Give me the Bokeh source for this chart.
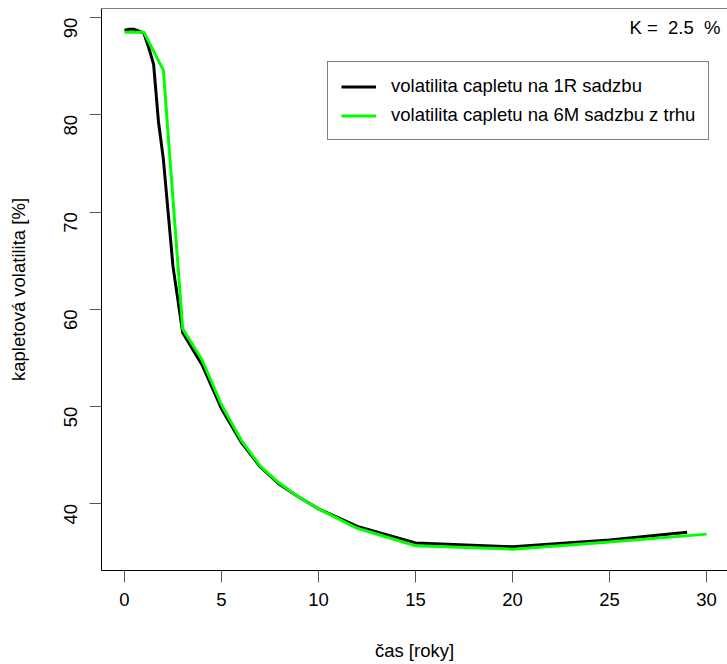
import math
from bokeh.plotting import figure
from bokeh.models import Range1d, Legend, LegendItem, Label, Span, FixedTicker
from bokeh.embed import file_html
from bokeh.resources import INLINE

# Data: caplet volatility [%] vs time [years]
t_1r = [0, 0.25, 0.5, 0.75, 1, 1.25, 1.5, 1.75, 2, 2.5, 3, 4, 5, 6, 7, 8, 9, 10, 12, 15, 20, 25, 29]
vol_1r = [88.7, 88.8, 88.8, 88.6, 88.4, 86.9, 85.2, 79.3, 75.5, 64.4, 57.6, 54.3, 49.8, 46.4, 43.8, 42.0, 40.7, 39.5, 37.7, 36.0, 35.6, 36.3, 37.1]
t_6m = [0, 1, 2, 3, 4, 5, 6, 7, 8, 9, 10, 12, 15, 20, 25, 30]
vol_6m = [88.5, 88.5, 84.6, 58.0, 54.8, 50.2, 46.6, 43.9, 42.1, 40.7, 39.5, 37.5, 35.7, 35.35, 36.1, 36.9]

x_ticks = [0, 5, 10, 15, 20, 25, 30]
y_ticks = [40, 50, 60, 70, 80, 90]
legend_labels = ["volatilita capletu na 1R sadzbu", "volatilita capletu na 6M sadzbu z trhu"]
strike_text = "K =\u00a0 2.5\u00a0 %"

FONT = "Liberation Sans"
FS = "18.5px"

p = figure(width=727, height=664, output_backend="svg", toolbar_location=None,
           x_range=Range1d(-1.186, 31.08), y_range=Range1d(33.16, 90.94),
           min_border_left=101, min_border_right=0, min_border_top=8, min_border_bottom=94)
p.grid.visible = False
p.outline_line_color = None
p.background_fill_color = "white"
p.border_fill_color = "white"

for ax in (p.xaxis[0], p.yaxis[0]):
    ax.axis_line_color = "black"
    ax.axis_line_width = 1
    ax.major_tick_in = 0
    ax.major_tick_out = 12
    ax.major_tick_line_color = "#555555"
    ax.minor_tick_line_color = None
    ax.major_label_text_font = FONT
    ax.major_label_text_font_size = FS
    ax.major_label_text_color = "black"
    ax.axis_label_text_font = FONT
    ax.axis_label_text_font_size = FS
    ax.axis_label_text_font_style = "normal"
    ax.axis_label_text_color = "black"

p.xaxis[0].ticker = FixedTicker(ticks=x_ticks)
p.yaxis[0].ticker = FixedTicker(ticks=y_ticks)
p.xaxis[0].axis_label = "čas [roky]"
p.yaxis[0].axis_label = "kapletová volatilita [%]"
p.xaxis[0].major_label_standoff = 10
p.xaxis[0].axis_label_standoff = 31
p.yaxis[0].major_label_standoff = 19
p.yaxis[0].axis_label_standoff = 26
p.yaxis[0].major_label_orientation = math.pi / 2

# top edge of the box
p.add_layout(Span(location=90.94, dimension="width", line_color="black", line_width=1))

r1 = p.line(t_1r, vol_1r, line_color="black", line_width=3)
r2 = p.line(t_6m, vol_6m, line_color="#00ff00", line_width=3)

legend = Legend(items=[LegendItem(label=legend_labels[0], renderers=[r1]),
                       LegendItem(label=legend_labels[1], renderers=[r2])],
                location=(226, 430), orientation="vertical",
                label_text_font=FONT, label_text_font_size=FS, label_text_color="black",
                glyph_width=35, glyph_height=21, label_height=21,
                label_standoff=15, padding=13, spacing=7, margin=0,
                border_line_color="black", border_line_width=1,
                background_fill_alpha=1.0)
p.add_layout(legend, "center")

p.add_layout(Label(x=30.72, y=88.97, text=strike_text, text_align="right",
                   text_baseline="middle", text_font=FONT, text_font_size=FS,
                   text_color="black"))

open("out.html", "w").write(file_html(p, INLINE))
